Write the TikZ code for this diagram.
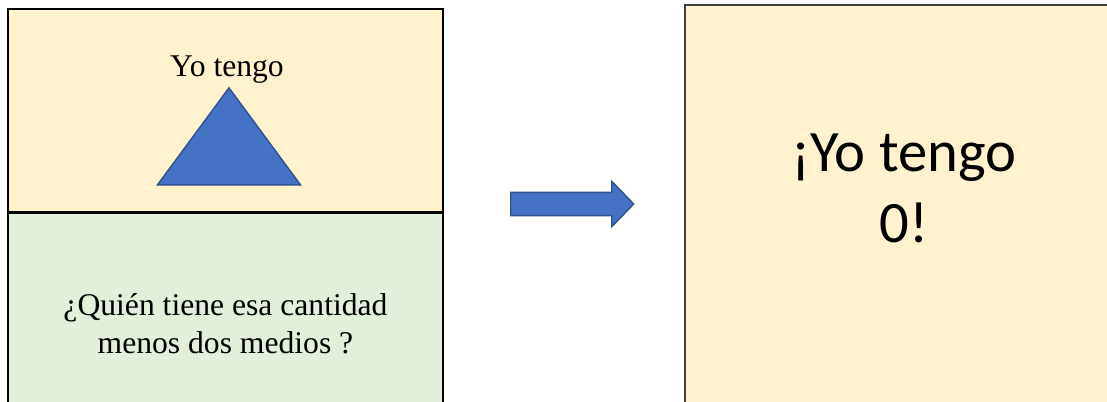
\documentclass[tikz,border=0pt]{standalone}
\usepackage{fontspec}
\setmainfont{Liberation Serif}
\newfontfamily\calibri{Carlito}
\usetikzlibrary{shapes.geometric,shapes.arrows}
\definecolor{cardyellow}{HTML}{FFF2CC}
\definecolor{cardgreen}{HTML}{E2EFDA}
\definecolor{shapeblue}{HTML}{4472C4}
\definecolor{shapeedge}{HTML}{2F528F}
\definecolor{cardedge}{HTML}{404040}

\begin{document}
\begin{tikzpicture}[x=0.02cm, y=-0.02cm,
  card/.style={draw=black, line width=0.9pt, minimum width=8.7cm, inner sep=0pt, align=center},
  serifbig/.style={font=\fontsize{18}{21.6}\selectfont},
  bluefill/.style={fill=shapeblue, draw=shapeedge, line width=0.8pt}]
\useasboundingbox (0,0) rectangle (1107,402);
\clip (0,0) rectangle (1107,402);

\node[card, fill=cardyellow, minimum height=4.06cm] (have) at (225.5,110.5) {};
\node[card, fill=cardgreen, minimum height=4.44cm, serifbig] (who) at (225.5,324) {¿Quién tiene esa cantidad\\menos dos medios ?};
\node[draw=cardedge, line width=1.2pt, fill=cardyellow, minimum width=8.8cm, minimum height=8.7cm] (say) at (905,222.5) {};

\node[serifbig, inner sep=0pt, anchor=base] (havetext) at (227,77) {Yo tengo};
\node[bluefill, isosceles triangle, isosceles triangle stretches, shape border rotate=90, minimum width=2.86cm, minimum height=1.94cm, inner sep=0pt, anchor=apex] (tri) at (229,86) {};

\node[font=\calibri\fontsize{33.4}{40.4}\selectfont, align=center, inner sep=0pt] (saytext) at (904,188) {¡Yo tengo\\0!};

\node[bluefill, single arrow, single arrow tip angle=92, single arrow head extend=0.22cm, minimum height=2.46cm, minimum width=0.88cm, inner sep=0.22cm, anchor=tail] (go) at (510,204) {};
\end{tikzpicture}
\end{document}
